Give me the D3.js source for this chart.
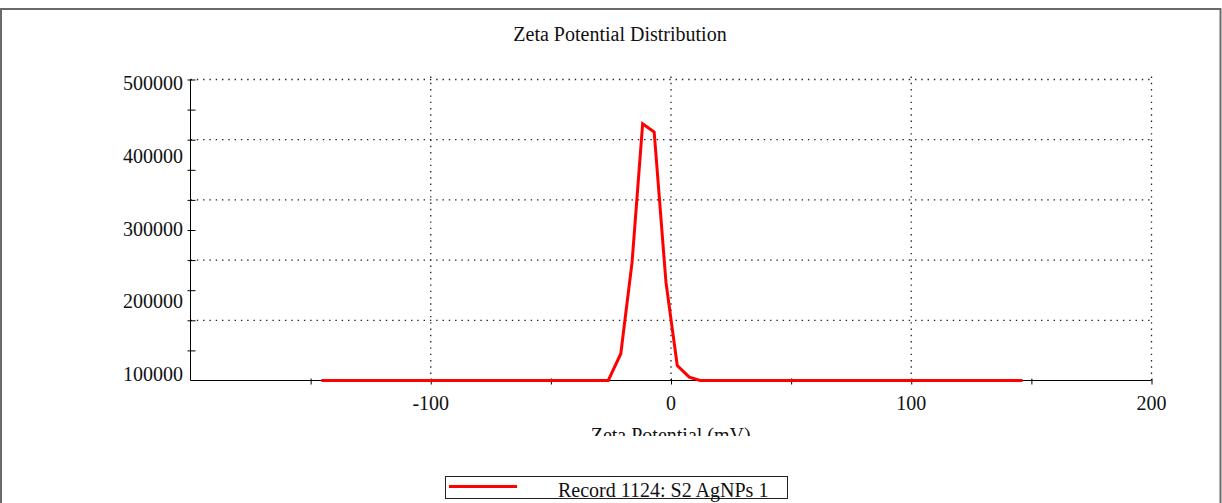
<!DOCTYPE html>
<html>
<head>
<meta charset="utf-8">
<script src="https://cdn.jsdelivr.net/npm/d3@7"></script>
<style>
    body { margin: 0; background: #fff; }
    svg { display: block; font-family: "Liberation Serif", "Times New Roman", serif; }
</style>
</head>
<body>
<div id="chart"></div>
<script>
//1) Data

//zeta potential (mV) of each point on the red curve
const zetaValues = [-145.5, -26.1, -20.9, -16.2, -11.8, -7.0, -2.1, 2.6, 7.6, 12.1, 146.3]
//counts (axis starts at 100000)
const countValues = [100000, 100000, 135600, 257300, 441300, 430300, 230700, 120000, 104400, 100000, 100000]

const xTickLabels = [-100, 0, 100, 200]
const xTickValues = [-150, -100, -50, 0, 50, 100, 150, 200]
const xGridValues = [-100, 0, 100, 200]

const yTickLabels = [100000, 200000, 300000, 400000, 500000]
const yTickValues = [140000, 180000, 220000, 260000, 300000, 340000, 380000, 420000, 460000, 500000]
const yGridValues = [180000, 260000, 340000, 420000, 500000]

const chartTitle = "Zeta Potential Distribution"
const xAxisTitle = "Zeta Potential (mV)"
const legendLabel = "Record 1124: S2 AgNPs 1"

function drawChart(){
    //2) Dimensions
    const dimensions = {
        width: 1222,
        height: 503,
        left: 190.5,
        right: 1151.5,
        top: 79.5,
        bottom: 380.5,
    }

    //3) Canvas
    const svg = d3.select("#chart")
        .append("svg")
        .attr("width", dimensions.width)
        .attr("height", dimensions.height)

    //outer frame
    svg.append("rect")
        .attr("x", 1)
        .attr("y", 9)
        .attr("width", 1219.5)
        .attr("height", 520)
        .attr("fill", "none")
        .attr("stroke", "#6a6a6a")
        .attr("stroke-width", 2)

    //4) Scales
    const xScale = d3.scaleLinear()
        .domain([-200, 200])
        .range([dimensions.left, dimensions.right])

    const yScale = d3.scaleLinear()
        .domain([100000, 500000])
        .range([dimensions.bottom, dimensions.top])

    //the y labels in the original don't line up with the grid, so they get their own scale
    const yLabelScale = d3.scaleLinear()
        .domain([100000, 500000])
        .range([381, 90])

    //5) Grid
    const dotted = "1.4,4.9"

    svg.append("g")
        .selectAll("line")
        .data(yGridValues)
        .enter().append("line")
        .attr("x1", dimensions.left)
        .attr("x2", dimensions.right)
        .attr("y1", d => yScale(d))
        .attr("y2", d => yScale(d))
        .attr("stroke", "#222")
        .attr("stroke-width", 1.3)
        .attr("stroke-dasharray", dotted)

    svg.append("g")
        .selectAll("line")
        .data(xGridValues)
        .enter().append("line")
        .attr("x1", d => xScale(d))
        .attr("x2", d => xScale(d))
        .attr("y1", dimensions.top - 3)
        .attr("y2", dimensions.bottom)
        .attr("stroke", "#222")
        .attr("stroke-width", 1.3)
        .attr("stroke-dasharray", dotted)

    //6) Axes
    const xAxis = d3.axisBottom(xScale)
        .tickValues(xTickValues)
        .tickSize(4)
        .tickFormat("")

    const xAxisGroup = svg.append("g")
        .attr("transform", `translate(0, ${dimensions.bottom})`)
        .call(xAxis)
    xAxisGroup.select(".domain").attr("d", `M${dimensions.left},0H${dimensions.right}`).attr("stroke", "#000")
    xAxisGroup.selectAll(".tick line").attr("y1", -2).attr("stroke", "#000")

    svg.append("g")
        .selectAll("text")
        .data(xTickLabels)
        .enter().append("text")
        .attr("x", d => xScale(d))
        .attr("y", 410)
        .attr("text-anchor", "middle")
        .attr("font-size", 20)
        .attr("fill", "#111")
        .text(d => d)

    const yAxis = d3.axisLeft(yScale)
        .tickValues(yTickValues)
        .tickSize(2)
        .tickFormat("")

    const yAxisGroup = svg.append("g")
        .attr("transform", `translate(${dimensions.left}, 0)`)
        .call(yAxis)
    yAxisGroup.select(".domain").attr("d", `M0,${dimensions.top}V${dimensions.bottom}`).attr("stroke", "#000")
    yAxisGroup.selectAll(".tick line").attr("x2", 5).attr("x1", -3).attr("stroke", "#000")

    svg.append("g")
        .selectAll("text")
        .data(yTickLabels)
        .enter().append("text")
        .attr("x", 183)
        .attr("y", d => yLabelScale(d))
        .attr("text-anchor", "end")
        .attr("font-size", 20)
        .attr("fill", "#111")
        .text(d => d)

    //7) Line
    const points = zetaValues.map((z, i) => [z, countValues[i]])

    const lineGenerator = d3.line()
        .x(d => xScale(d[0]))
        .y(d => yScale(d[1]))

    svg.append("path")
        .datum(points)
        .attr("d", lineGenerator)
        .attr("fill", "none")
        .attr("stroke", "#ff0000")
        .attr("stroke-width", 3)
        .attr("stroke-linejoin", "miter")

    //8) Titles
    svg.append("text")
        .attr("x", 620)
        .attr("y", 41)
        .attr("text-anchor", "middle")
        .attr("font-size", 20)
        .attr("fill", "#111")
        .text(chartTitle)

    //the axis title is cut off at the bottom in the original
    svg.append("clipPath")
        .attr("id", "axis-title-clip")
        .append("rect")
        .attr("x", 0)
        .attr("y", 415)
        .attr("width", dimensions.width)
        .attr("height", 21)

    svg.append("text")
        .attr("x", 670.7)
        .attr("y", 441.5)
        .attr("text-anchor", "middle")
        .attr("font-size", 20)
        .attr("fill", "#111")
        .attr("clip-path", "url(#axis-title-clip)")
        .text(xAxisTitle)

    //9) Legend
    const legend = svg.append("g")

    legend.append("rect")
        .attr("x", 445.5)
        .attr("y", 476.5)
        .attr("width", 342)
        .attr("height", 22)
        .attr("fill", "#fff")
        .attr("stroke", "#222")
        .attr("stroke-width", 1)

    legend.append("line")
        .attr("x1", 449)
        .attr("x2", 517)
        .attr("y1", 486.5)
        .attr("y2", 486.5)
        .attr("stroke", "#ff0000")
        .attr("stroke-width", 3)

    legend.append("text")
        .attr("x", 558)
        .attr("y", 497)
        .attr("font-size", 20)
        .attr("fill", "#111")
        .text(legendLabel)
}
drawChart()
</script>
</body>
</html>
